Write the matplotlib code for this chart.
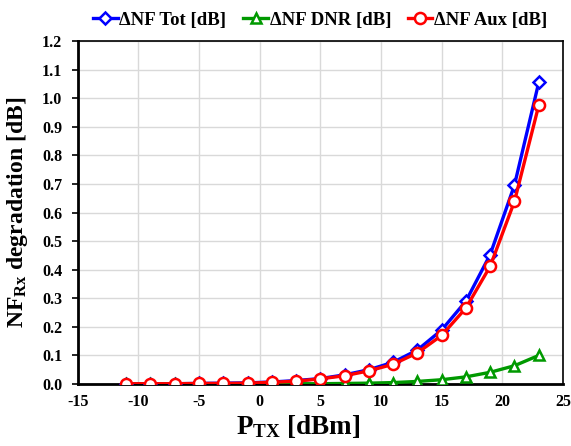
import matplotlib
matplotlib.use("Agg")
import matplotlib.pyplot as plt

plt.rcParams["font.family"] = ["Liberation Serif", "DejaVu Serif"]
plt.rcParams["font.weight"] = "bold"
plt.rcParams["mathtext.fontset"] = "custom"
plt.rcParams["mathtext.rm"] = "Liberation Serif:bold"
plt.rcParams["mathtext.bf"] = "Liberation Serif:bold"
plt.rcParams["mathtext.it"] = "Liberation Serif:bold"

# Transmit power sweep [dBm]
p_tx = [-11, -9, -7, -5, -3, -1, 1, 3, 5, 7, 9, 11, 13, 15, 17, 19, 21, 23]

# NF degradation [dB]
nf_tot = [0.001, 0.001, 0.001, 0.002, 0.003, 0.004, 0.007, 0.012, 0.019, 0.032,
          0.050, 0.076, 0.119, 0.189, 0.290, 0.453, 0.696, 1.055]
nf_dnr = [0.000, 0.000, 0.000, 0.000, 0.000, 0.000, 0.001, 0.001, 0.001, 0.002,
          0.003, 0.005, 0.009, 0.015, 0.025, 0.041, 0.064, 0.100]
nf_aux = [0.001, 0.001, 0.001, 0.002, 0.002, 0.003, 0.006, 0.010, 0.018, 0.029,
          0.046, 0.069, 0.109, 0.170, 0.266, 0.412, 0.639, 0.975]

x_ticks = [-15, -10, -5, 0, 5, 10, 15, 20, 25]
y_ticks = [0.0, 0.1, 0.2, 0.3, 0.4, 0.5, 0.6, 0.7, 0.8, 0.9, 1.0, 1.1, 1.2]

fig = plt.figure(figsize=(5.71, 4.46), dpi=100)
ax = fig.add_axes([0.136, 0.139, 0.850, 0.769])

ax.plot(p_tx, nf_tot, color="#0000ff", lw=2.4, marker="D", ms=6,
        mfc="white", mec="#0000ff", mew=1.8, label="ΔNF Tot [dB]", zorder=3)
ax.plot(p_tx, nf_dnr, color="#009900", lw=2.4, marker="^", ms=7.5,
        mfc="white", mec="#009900", mew=1.8, label="ΔNF DNR [dB]", zorder=4)
ax.plot(p_tx, nf_aux, color="#ff0000", lw=2.4, marker="o", ms=8,
        mfc="white", mec="#ff0000", mew=1.8, label="ΔNF Aux [dB]", zorder=5)

ax.set_xlim(-15, 25)
ax.set_ylim(0, 1.2)
ax.set_xticks(x_ticks)
ax.set_yticks(y_ticks)
ax.set_xticklabels([str(v) for v in x_ticks], fontsize=11.5, fontweight="bold")
ax.set_yticklabels([f"{v:.1f}" for v in y_ticks], fontsize=11.5, fontweight="bold")
ax.tick_params(axis="x", length=0, pad=7)
ax.tick_params(axis="y", length=4, width=1.2, direction="out", pad=7)

ax.grid(True, color="#d9d9d9", lw=1.0)
ax.set_axisbelow(True)
for side in ["top", "right"]:
    ax.spines[side].set_linewidth(1.2)
for side in ["left", "bottom"]:
    ax.spines[side].set_linewidth(2.0)

ax.set_xlabel(r"P$_{\rm TX}$ [dBm]", fontsize=19.5, fontweight="bold")
ax.xaxis.set_label_coords(0.455, -0.085)
ax.set_ylabel(r"NF$_{\rm Rx}$ degradation [dB]", fontsize=17, fontweight="bold")
ax.yaxis.set_label_coords(-0.098, 0.5)

ax.legend(loc="lower center", bbox_to_anchor=(0.5, 1.0), ncol=3, frameon=False,
          prop={"size": 13.5, "weight": "bold"}, handlelength=1.3, handletextpad=0.1,
          columnspacing=0.9, borderaxespad=0.25)

fig.savefig("out.png", dpi=100)
